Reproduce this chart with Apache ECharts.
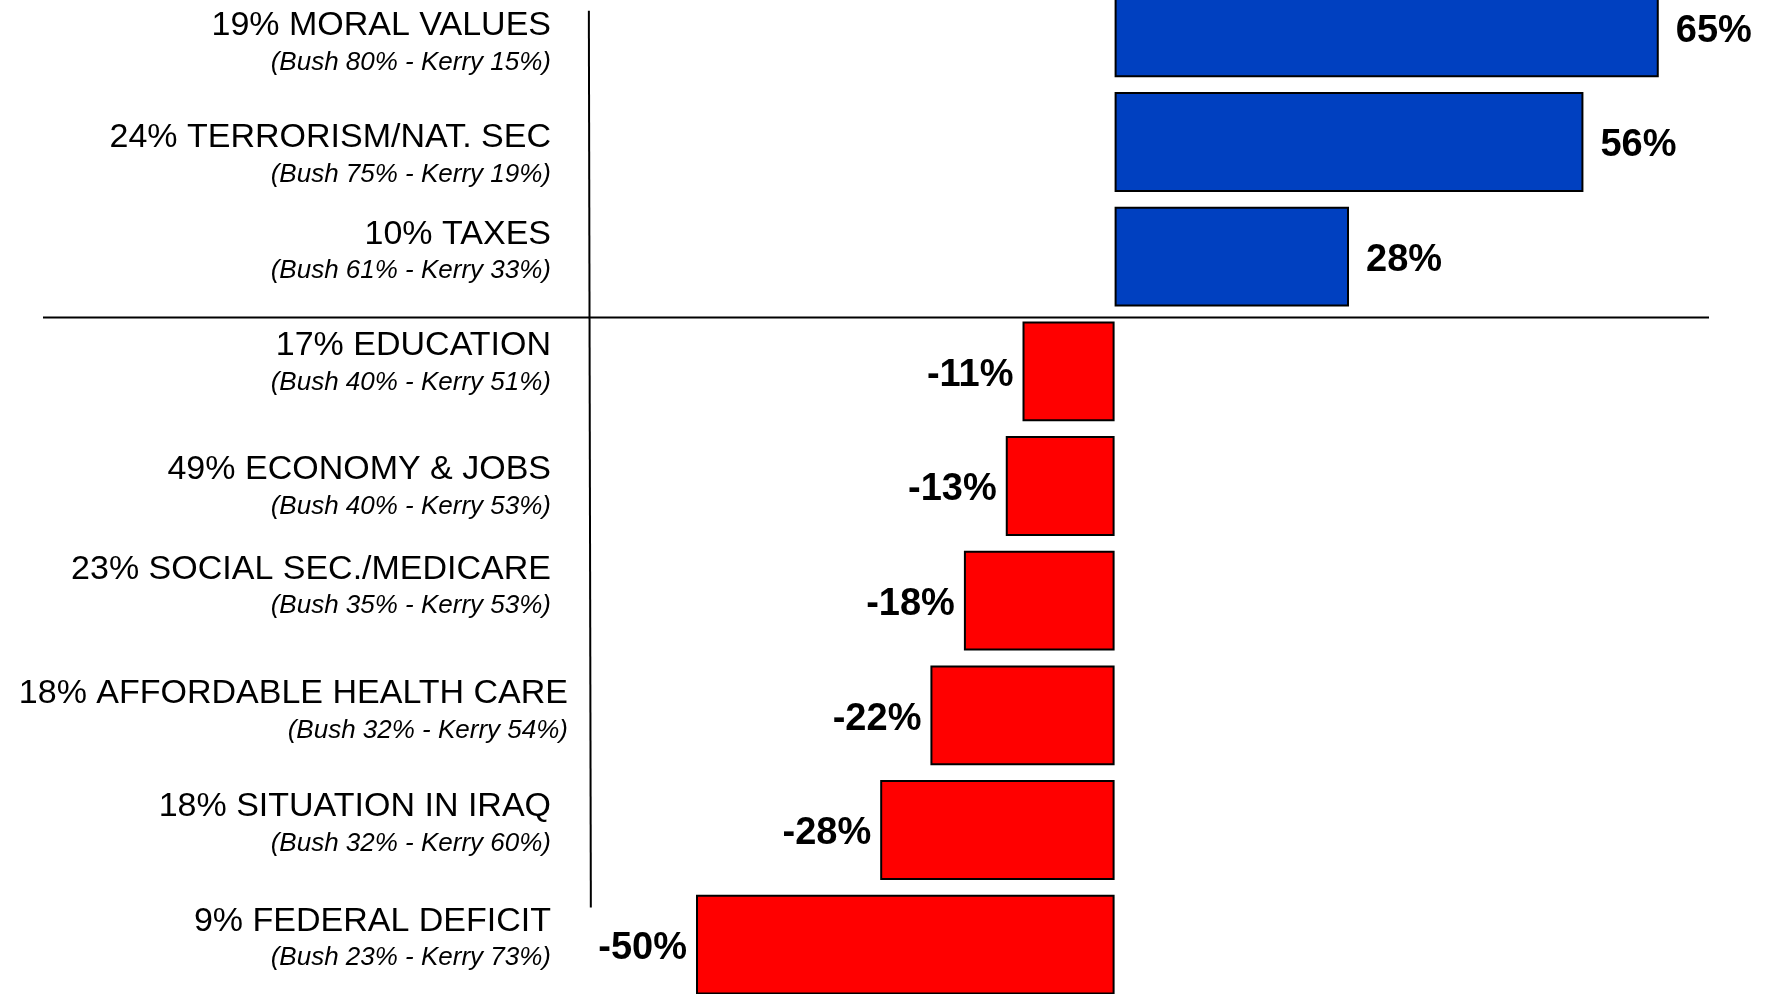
<!DOCTYPE html>
<html>
<head>
<meta charset="utf-8">
<script src="https://cdn.jsdelivr.net/npm/echarts@6/dist/echarts.min.js"></script>
<style>
  html, body { margin: 0; padding: 0; background: #fff; }
  #chart { width: 1773px; height: 994px; }
</style>
</head>
<body>
<div id="chart"></div>
<script>
// share of voters naming the issue
const issueShare = [19, 24, 10, 17, 49, 23, 18, 18, 9]
const issues = [
  'MORAL VALUES', 'TERRORISM/NAT. SEC', 'TAXES', 'EDUCATION', 'ECONOMY & JOBS',
  'SOCIAL SEC./MEDICARE', 'AFFORDABLE HEALTH CARE', 'SITUATION IN IRAQ', 'FEDERAL DEFICIT'
]
const bushPct = [80, 75, 61, 40, 40, 35, 32, 32, 23]
const kerryPct = [15, 19, 33, 51, 53, 53, 54, 60, 73]
// Bush margin among those voters
const netBush = [65, 56, 28, -11, -13, -18, -22, -28, -50]

const categories = issues.map((name, i) => issueShare[i] + '% ' + name)

// layout: the issue text boxes were hand placed, shift each one (px, + = down)
const labelNudge = [17, 14, -4, -7, 2, -13, -3, -5, -5]

const chart = echarts.init(document.getElementById('chart'))

const FONT = '"Liberation Sans", Arial, sans-serif'

chart.setOption({
  animation: false,
  backgroundColor: '#fff',
  grid: { left: 43, right: 64, top: -30, height: 1032, outerBoundsMode: 'none', containLabel: false },
  xAxis: {
    type: 'value',
    min: -128,
    max: 71,
    show: false
  },
  yAxis: {
    type: 'category',
    inverse: true,
    data: categories.map((c, i) => {
      const s = labelNudge[i]
      return {
        value: c,
        textStyle: { padding: [Math.max(s, 0) * 2, c.length > 25 ? 0 : 17, Math.max(-s, 0) * 2, 0] }
      }
    }),
    axisLine: { show: false, onZero: false },
    axisTick: { show: false },
    splitLine: { show: false },
    axisLabel: {
      interval: 0,
      margin: -525,
      align: 'right',
      verticalAlign: 'middle',
      fontFamily: FONT,
      formatter: (value, i) =>
        '{name|' + value + '}\n{sub|(Bush ' + bushPct[i] + '% - Kerry ' + kerryPct[i] + '%)}',
      rich: {
        name: { fontSize: 34, lineHeight: 37, color: '#000', fontFamily: FONT, align: 'right' },
        sub: { fontSize: 26, lineHeight: 37, color: '#000', fontStyle: 'italic', fontFamily: FONT, align: 'right' }
      }
    }
  },
  series: [
    {
      type: 'bar',
      data: netBush.map(v => ({
        value: v,
        label: { position: v >= 0 ? 'right' : 'left', distance: v >= 0 ? 17 : 9 }
      })),
      barCategoryGap: '13%',
      itemStyle: {
        color: (p) => (p.value >= 0 ? '#0040C0' : '#FF0000'),
        borderColor: '#000',
        borderWidth: 2
      },
      label: {
        show: true,
        formatter: (p) => p.value + '%',
        offset: [0, 4],
        fontFamily: FONT,
        fontSize: 38,
        fontWeight: 'bold',
        color: '#000'
      }
    }
  ]
})

// divider lines: vertical one between labels and bars, horizontal one between gains and losses
const xLeft = chart.convertToPixel({ xAxisIndex: 0 }, -128)
const xRight = chart.convertToPixel({ xAxisIndex: 0 }, 71)
const lineX = chart.convertToPixel({ xAxisIndex: 0 }, -62.8)
const yFirst = chart.convertToPixel({ yAxisIndex: 0 }, 0)
const yLast = chart.convertToPixel({ yAxisIndex: 0 }, categories.length - 1)
const band = (yLast - yFirst) / (categories.length - 1)
const lastGain = netBush.filter(v => v >= 0).length - 1
const ySplit = chart.convertToPixel({ yAxisIndex: 0 }, lastGain) + 0.53 * band
chart.setOption({
  graphic: [
    {
      type: 'line',
      shape: { x1: lineX, y1: yFirst - 0.144 * band, x2: lineX + 2, y2: yLast - 0.325 * band },
      style: { stroke: '#000', lineWidth: 2 },
      silent: true
    },
    {
      type: 'line',
      shape: { x1: xLeft, y1: ySplit, x2: xRight, y2: ySplit },
      style: { stroke: '#000', lineWidth: 2 },
      silent: true
    }
  ]
})
</script>
</body>
</html>
